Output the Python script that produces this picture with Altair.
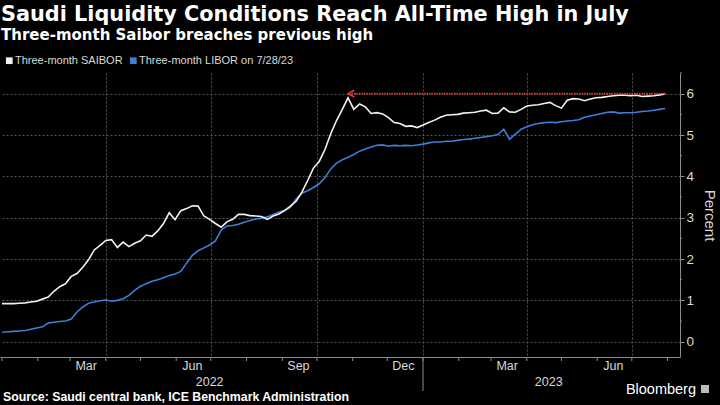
import altair as alt
import pandas as pd

# ---------------- data ----------------
TITLE = "Saudi Liquidity Conditions Reach All-Time High in July"
SUBTITLE = "Three-month Saibor breaches previous high"
SOURCE = "Source: Saudi central bank, ICE Benchmark Administration"
BRAND = "Bloomberg"
Y_TITLE = "Percent"
legend_labels = ["Three-month SAIBOR", "Three-month LIBOR on 7/28/23"]
series_colors = ["#f2f2f2", "#3b7fd6"]

dates = pd.date_range("2022-01-01", periods=116, freq="5D").strftime("%Y-%m-%d").tolist()

saibor = [
    0.92, 0.92, 0.92, 0.93, 0.94, 0.96, 0.98, 1.03, 1.08, 1.22,
    1.33, 1.40, 1.58, 1.65, 1.80, 1.98, 2.22, 2.33, 2.45, 2.47,
    2.28, 2.41, 2.30, 2.38, 2.44, 2.58, 2.55, 2.68, 2.86, 3.12,
    2.95, 3.17, 3.22, 3.29, 3.28, 3.04, 2.96, 2.86, 2.77, 2.90,
    2.96, 3.08, 3.08, 3.05, 3.04, 3.03, 2.96, 3.04, 3.09, 3.17,
    3.28, 3.40, 3.62, 3.90, 4.20, 4.36, 4.65, 5.03, 5.35, 5.62,
    5.90, 5.62, 5.75, 5.68, 5.52, 5.54, 5.51, 5.42, 5.30, 5.28,
    5.21, 5.22, 5.18, 5.24, 5.30, 5.36, 5.43, 5.48, 5.49, 5.50,
    5.53, 5.54, 5.55, 5.58, 5.60, 5.52, 5.53, 5.66, 5.56, 5.55,
    5.62, 5.70, 5.72, 5.73, 5.76, 5.79, 5.71, 5.65, 5.84, 5.88,
    5.87, 5.83, 5.87, 5.90, 5.91, 5.93, 5.95, 5.96, 5.96, 5.95,
    5.96, 5.93, 5.94, 5.95, 5.97, 5.99,
]

libor = [
    0.23, 0.24, 0.25, 0.26, 0.27, 0.30, 0.33, 0.36, 0.45, 0.47,
    0.49, 0.50, 0.55, 0.72, 0.84, 0.93, 0.96, 0.99, 1.01, 0.98,
    1.00, 1.04, 1.12, 1.24, 1.34, 1.40, 1.46, 1.50, 1.55, 1.60,
    1.64, 1.70, 1.90, 2.09, 2.20, 2.27, 2.34, 2.44, 2.70, 2.80,
    2.81, 2.84, 2.89, 2.93, 2.97, 2.99, 3.02, 3.08, 3.13, 3.18,
    3.25, 3.45, 3.59, 3.65, 3.73, 3.82, 3.97, 4.18, 4.32, 4.40,
    4.46, 4.53, 4.61, 4.66, 4.71, 4.75, 4.76, 4.73, 4.75, 4.74,
    4.75, 4.74, 4.76, 4.78, 4.81, 4.83, 4.83, 4.85, 4.85, 4.87,
    4.89, 4.90, 4.92, 4.94, 4.96, 4.98, 5.01, 5.14, 4.90, 5.02,
    5.14, 5.20, 5.25, 5.28, 5.30, 5.31, 5.30, 5.32, 5.34, 5.35,
    5.37, 5.43, 5.46, 5.49, 5.52, 5.55, 5.56, 5.53, 5.54, 5.54,
    5.55, 5.57, 5.58, 5.60, 5.62, 5.64,
]

month_label_dates = ["2022-03-15", "2022-06-15", "2022-09-15", "2022-12-15", "2023-03-15", "2023-06-15"]
month_labels = ["Mar", "Jun", "Sep", "Dec", "Mar", "Jun"]
year_label_dates = ["2022-06-30", "2023-04-20"]
year_labels = ["2022", "2023"]
month_starts = pd.date_range("2022-01-01", "2023-08-01", freq="MS").strftime("%Y-%m-%d").tolist()
year_break = ["2023-01-01"]
quarter_grid = [(2022, 4), (2022, 7), (2022, 10), (2023, 1), (2023, 4), (2023, 7)]
y_ticks = [0, 1, 2, 3, 4, 5, 6]
y_minor = [0.5, 1.5, 2.5, 3.5, 4.5, 5.5, 6.5]
arrow_start = "2022-10-31"
arrow_end = "2023-07-31"
arrow_level = 6.0

# ---------------- style ----------------
W, H = 680, 284
FONT = "Liberation Sans, Arial, sans-serif"
HEAD = "DejaVu Sans, Verdana, sans-serif"
GRID = "#555555"
AXIS = "#8c8c8c"
TXT = "#d9d9d9"

x_scale = alt.Scale(
    type="utc",
    domain=[alt.DateTime(year=2021, month=12, date=30, hours=6, utc=True),
            alt.DateTime(year=2023, month=8, date=11, hours=19, utc=True)],
)
y_scale = alt.Scale(domain=[-0.37, 6.5], nice=False, zero=False)

x_axis = alt.Axis(
    values=[alt.DateTime(year=y, month=m, date=1, utc=True) for y, m in quarter_grid],
    grid=True, gridColor=GRID, gridDash=[2, 2], gridWidth=1,
    labels=False, ticks=False, domain=True, domainColor=AXIS, domainWidth=1, title=None,
)
y_axis = alt.Axis(
    orient="right", values=y_ticks, grid=True, gridColor=GRID, gridDash=[2, 2], gridWidth=1,
    tickSize=4, tickColor=AXIS, domainColor=AXIS, domainWidth=1,
    labelFont=FONT, labelFontSize=13.5, labelColor=TXT, labelPadding=2,
    title=Y_TITLE, titleFont=FONT, titleFontSize=15, titleFontWeight="normal",
    titleColor=TXT, titlePadding=8,
)


def X(field):
    return alt.X(field, scale=x_scale, axis=x_axis)


def Y(field):
    return alt.Y(field, scale=y_scale, axis=y_axis)


df_s = pd.DataFrame({"date": dates, "value": saibor})
df_l = pd.DataFrame({"date": dates, "value": libor})

blue = alt.Chart(df_l).mark_line(strokeWidth=1.6, color=series_colors[1]).encode(
    x=X("date:T"), y=Y("value:Q")
)
white = alt.Chart(df_s).mark_line(strokeWidth=1.6, color=series_colors[0]).encode(
    x=X("date:T"), y=Y("value:Q")
)

minor = alt.Chart(pd.DataFrame({"value": y_minor})).mark_rule(color=AXIS, strokeWidth=1).encode(
    y=Y("value:Q"), x=alt.value(W), x2=alt.value(W + 2)
)

arrow_df = pd.DataFrame({"date": [arrow_start], "end": [arrow_end], "value": [arrow_level]})
arrow_line = alt.Chart(arrow_df).mark_rule(color="#e23b3b", strokeDash=[1.5, 1], strokeWidth=1.6).encode(
    x=X("date:T"), x2="end:T", y=Y("value:Q")
)
arrow_head = alt.Chart(arrow_df).mark_point(
    shape="M 0.8 -1 L -1 0 L 0.8 1", filled=False, color="#e23b3b", strokeWidth=1.6, size=45, opacity=1
).encode(x=X("date:T"), y=Y("value:Q"))

mticks = alt.Chart(pd.DataFrame({"date": month_starts})).mark_rule(color=AXIS).encode(
    x=X("date:T"), y=alt.value(H), y2=alt.value(H + 4)
)
ybreak = alt.Chart(pd.DataFrame({"date": year_break})).mark_rule(color=AXIS).encode(
    x=X("date:T"), y=alt.value(H), y2=alt.value(H + 34)
)
mlabels = alt.Chart(pd.DataFrame({"date": month_label_dates, "t": month_labels})).mark_text(
    font=FONT, fontSize=12.5, color=TXT, baseline="middle", align="center"
).encode(x=X("date:T"), y=alt.value(H + 9), text="t:N")
ylabels = alt.Chart(pd.DataFrame({"date": year_label_dates, "t": year_labels})).mark_text(
    font=FONT, fontSize=12.5, color=TXT, baseline="middle", align="center"
).encode(x=X("date:T"), y=alt.value(H + 25), text="t:N")


def label(text, x, y, size, weight="normal", color="#ffffff", align="left", baseline="alphabetic", font=FONT):
    return alt.Chart(pd.DataFrame({"t": [text]})).mark_text(
        font=font, fontSize=size, fontWeight=weight, color=color, align=align, baseline=baseline
    ).encode(text="t:N", x=alt.value(x), y=alt.value(y))


title = label(TITLE, 1, -52, 20.8, "bold", font=HEAD)
subtitle = label(SUBTITLE, 1, -33.5, 15, "bold", font=HEAD)
leg_text1 = label(legend_labels[0], 15, -12.3, 11, color=TXT, baseline="middle")
leg_text2 = label(legend_labels[1], 139, -12.3, 11, color=TXT, baseline="middle")
leg_sq1 = alt.Chart(pd.DataFrame({"t": ["a"]})).mark_square(
    size=45, opacity=1, filled=True, color=series_colors[0]
).encode(x=alt.value(9.3), y=alt.value(-12.3))
leg_sq2 = alt.Chart(pd.DataFrame({"t": ["b"]})).mark_square(
    size=45, opacity=1, filled=True, color=series_colors[1]
).encode(x=alt.value(133.3), y=alt.value(-12.3))
source = label(SOURCE, 3, 324, 12.3, "bold", baseline="middle")
brand = label(BRAND, 696, 317, 14.5, "normal", align="right", baseline="middle")
brand_icon = alt.Chart(pd.DataFrame({"t": ["icon"]})).mark_square(
    size=64, color="#bbbbbb", opacity=1, filled=True
).encode(x=alt.value(705), y=alt.value(316))

chart = alt.layer(
    blue, white, minor, arrow_line, arrow_head, mticks, ybreak, mlabels, ylabels,
    title, subtitle, leg_sq1, leg_sq2, leg_text1, leg_text2, source, brand, brand_icon,
).properties(
    width=W, height=H, background="#000000",
    padding={"left": 0, "top": 73, "right": 40, "bottom": 48},
    autosize=alt.AutoSizeParams(type="none"),
).configure_view(stroke=None)

chart.save("out.html", embed_options={"renderer": "svg", "actions": False})
